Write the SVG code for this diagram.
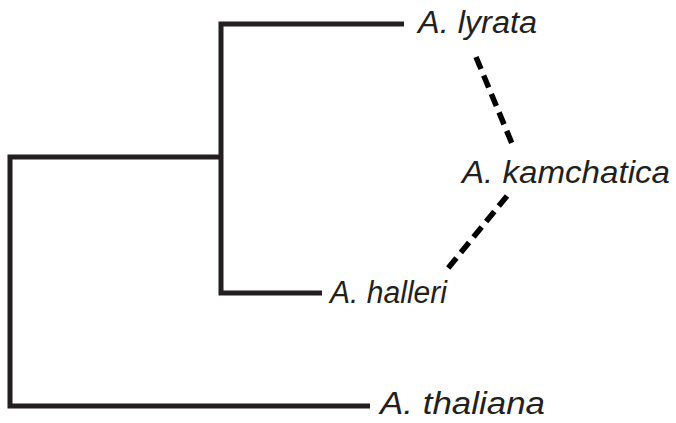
<svg xmlns="http://www.w3.org/2000/svg" width="676" height="423" viewBox="0 0 676 423">
<style>
.br{fill:none;stroke:#231f20;stroke-width:5;stroke-linecap:butt;stroke-linejoin:miter}
.ds{fill:none;stroke:#000;stroke-width:5.5;stroke-dasharray:13 7}
.lb{font-family:"Liberation Sans",Arial,sans-serif;font-style:italic;font-size:31px;fill:#231f20}
</style>
<rect width="676" height="423" fill="#fff"/>
<g id="connectors">
<path class="br" d="M370,406 H10 V157 H221"/>
<path class="br" d="M404,24 H221 V293 H322"/>
<path class="ds" d="M476,57 L513,146"/>
<path class="ds" d="M507,196 L445,272"/>
</g>
<g id="lyrata"><text class="lb" x="418" y="33" textLength="119" lengthAdjust="spacingAndGlyphs">A. lyrata</text></g>
<g id="kamchatica"><text class="lb" x="462" y="183" textLength="208" lengthAdjust="spacingAndGlyphs">A. kamchatica</text></g>
<g id="halleri"><text class="lb" x="330" y="303" textLength="117" lengthAdjust="spacingAndGlyphs">A. halleri</text></g>
<g id="thaliana"><text class="lb" x="380" y="414" textLength="165" lengthAdjust="spacingAndGlyphs">A. thaliana</text></g>
</svg>
